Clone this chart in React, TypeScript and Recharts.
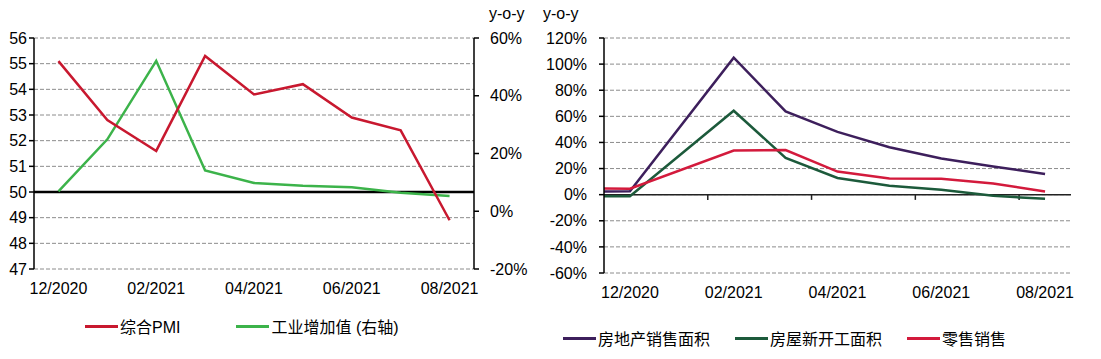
import { LineChart, Line, XAxis, YAxis, CartesianGrid, ReferenceLine } from 'recharts';

const FONT = "'Liberation Sans', Arial, 'Noto Sans CJK SC', sans-serif";

// left panel: composite PMI vs industrial value added
const leftMonths = ['12/2020', '01/2021', '02/2021', '03/2021', '04/2021', '05/2021', '06/2021', '07/2021', '08/2021'];
const pmi = [55.1, 52.8, 51.6, 55.3, 53.8, 54.2, 52.9, 52.4, 48.9];
const industry = [6.9, 24.9, 52.1, 14.1, 9.8, 8.8, 8.3, 6.4, 5.3];

// right panel: property + retail, y-o-y %
const rightMonths = ['11/2020', '12/2020', '01/2021', '02/2021', '03/2021', '04/2021', '05/2021', '06/2021', '07/2021', '08/2021'];
const salesArea = [2.4, 2.6, null, 104.9, 63.8, 48.1, 36.3, 27.7, 21.5, 15.9];
const newStarts = [-1.3, -1.2, null, 64.3, 28.2, 12.8, 6.9, 3.8, -0.9, -3.2];
const retail = [4.7, 4.6, null, 33.8, 34.2, 17.7, 12.4, 12.1, 8.5, 2.5];

const pmiTicks = [47, 48, 49, 50, 51, 52, 53, 54, 55, 56];
const leftPctTicks = [-20, 0, 20, 40, 60];
const rightPctTicks = [-60, -40, -20, 0, 20, 40, 60, 80, 100, 120];
const labelTicks = [0, 2, 4, 6, 8];
const boundaryTicks = [-0.5, 1.5, 3.5, 5.5, 7.5];

const leftNames = ['综合PMI', '工业增加值 (右轴)'];
const rightNames = ['房地产销售面积', '房屋新开工面积', '零售销售'];

const C_PMI = '#c8182f';
const C_IND = '#3cb34a';
const C_SALES = '#3d1f5c';
const C_STARTS = '#1c5a3b';
const C_RETAIL = '#d31a3c';

const leftData = leftMonths.map((m, i) => ({ x: i, month: m, pmi: pmi[i], industry: industry[i] }));
// Nov-2020 value sits on the left axis edge, the rest at category centres
const rightData = rightMonths.map((m, i) => ({
  x: i === 0 ? -0.5 : i - 1,
  month: m,
  salesArea: salesArea[i],
  newStarts: newStarts[i],
  retail: retail[i],
}));

const tickStyle = { fill: '#000', fontSize: 16, fontFamily: FONT };
const gridProps = { stroke: '#8c8c8c', strokeDasharray: '4 2' };

function LegendRow({ items, left, top, gap }: { items: { name: string; color: string }[]; left: number; top: number; gap: number }) {
  return (
    <div style={{ position: 'absolute', left, top, display: 'flex', alignItems: 'center', gap, fontFamily: FONT, fontSize: 16, color: '#000', whiteSpace: 'nowrap' }}>
      {items.map((it) => (
        <div key={it.name} style={{ display: 'flex', alignItems: 'center' }}>
          <div style={{ width: 33, height: 3, background: it.color, marginRight: 2 }} />
          <span>{it.name}</span>
        </div>
      ))}
    </div>
  );
}

export default function App() {
  return (
    <div style={{ position: 'absolute', left: 0, top: 0, width: 1101, height: 359, background: '#fff', fontFamily: FONT }}>
      <div style={{ position: 'absolute', left: 0, top: 0 }}>
        <LineChart width={540} height={359} data={leftData} margin={{ top: 38, right: 6, left: 0, bottom: 60 }}>
          <CartesianGrid xAxisId="lab" yAxisId="l" vertical={false} {...gridProps} />
          <XAxis
            xAxisId="tk"
            type="number"
            dataKey="x"
            domain={[-0.5, 8.5]}
            ticks={boundaryTicks}
            interval={0}
            tickFormatter={() => ''}
            height={0}
            tickSize={5}
            axisLine={{ stroke: '#000', strokeWidth: 1.5 }}
            tickLine={{ stroke: '#000', strokeWidth: 1.5 }}
          />
          <XAxis
            xAxisId="lab"
            type="number"
            dataKey="x"
            domain={[-0.5, 8.5]}
            ticks={labelTicks}
            interval={0}
            tickFormatter={(v) => leftMonths[v]}
            axisLine={false}
            tickLine={false}
            height={30}
            tickSize={5}
            tickMargin={9}
            tick={tickStyle}
          />
          <YAxis
            yAxisId="l"
            domain={[47, 56]}
            ticks={pmiTicks}
            interval={0}
            width={34}
            tickSize={5}
            tickMargin={2}
            tick={tickStyle}
            axisLine={{ stroke: '#000', strokeWidth: 1.5 }}
            tickLine={{ stroke: '#000', strokeWidth: 1.5 }}
          />
          <YAxis
            yAxisId="r"
            orientation="right"
            domain={[-20, 60]}
            ticks={leftPctTicks}
            interval={0}
            width={60}
            tickSize={5}
            tickMargin={11}
            tickFormatter={(v) => `${v}%`}
            tick={{ ...tickStyle, textAnchor: 'start' }}
            axisLine={{ stroke: '#000', strokeWidth: 1.5 }}
            tickLine={{ stroke: '#000', strokeWidth: 1.5 }}
          />
          <ReferenceLine xAxisId="lab" yAxisId="l" y={50} stroke="#000" strokeWidth={2.5} />
          <Line xAxisId="lab" yAxisId="r" dataKey="industry" stroke={C_IND} strokeWidth={2.5} dot={false} isAnimationActive={false} />
          <Line xAxisId="lab" yAxisId="l" dataKey="pmi" stroke={C_PMI} strokeWidth={2.5} dot={false} isAnimationActive={false} />
        </LineChart>
      </div>
      <div style={{ position: 'absolute', left: 489, top: 5, fontSize: 16 }}>y-o-y</div>
      <LegendRow
        left={85}
        top={314}
        gap={56}
        items={[
          { name: leftNames[0], color: C_PMI },
          { name: leftNames[1], color: C_IND },
        ]}
      />

      <div style={{ position: 'absolute', left: 540, top: 0 }}>
        <LineChart width={561} height={359} data={rightData} margin={{ top: 38, right: 30, left: 0, bottom: 56 }}>
          <CartesianGrid vertical={false} {...gridProps} />
          <XAxis
            type="number"
            dataKey="x"
            domain={[-0.5, 8.5]}
            ticks={labelTicks}
            interval={0}
            tickFormatter={(v) => rightMonths[v + 1]}
            axisLine={false}
            tickLine={false}
            height={30}
            tickSize={5}
            tickMargin={9}
            tick={tickStyle}
          />
          <YAxis
            domain={[-60, 120]}
            ticks={rightPctTicks}
            interval={0}
            width={64}
            tickSize={5}
            tickMargin={12}
            tickFormatter={(v) => `${v}%`}
            tick={tickStyle}
            axisLine={{ stroke: '#000', strokeWidth: 1.5 }}
            tickLine={{ stroke: '#000', strokeWidth: 1.5 }}
          />
          <ReferenceLine y={0} stroke="#222" strokeWidth={1.5} />
          {boundaryTicks.slice(1).map((t) => (
            <ReferenceLine
              key={t}
              segment={[{ x: t, y: 0 }, { x: t, y: -4 }]}
              stroke="#222"
              strokeWidth={1.5}
              ifOverflow="visible"
            />
          ))}
          <Line dataKey="salesArea" stroke={C_SALES} strokeWidth={2.5} dot={false} connectNulls isAnimationActive={false} />
          <Line dataKey="newStarts" stroke={C_STARTS} strokeWidth={2.5} dot={false} connectNulls isAnimationActive={false} />
          <Line dataKey="retail" stroke={C_RETAIL} strokeWidth={2.5} dot={false} connectNulls isAnimationActive={false} />
        </LineChart>
      </div>
      <div style={{ position: 'absolute', left: 543, top: 5, fontSize: 16 }}>y-o-y</div>
      <LegendRow
        left={563}
        top={326}
        gap={25}
        items={[
          { name: rightNames[0], color: C_SALES },
          { name: rightNames[1], color: C_STARTS },
          { name: rightNames[2], color: C_RETAIL },
        ]}
      />
    </div>
  );
}
